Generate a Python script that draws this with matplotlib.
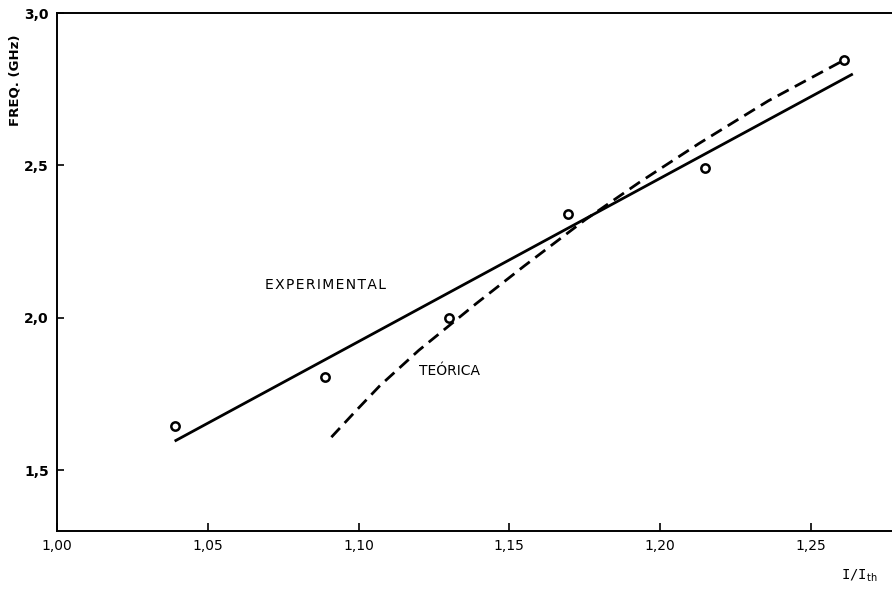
import matplotlib
matplotlib.use("Agg")
import matplotlib.pyplot as plt
from matplotlib.ticker import FuncFormatter

# measured points (I/Ith, GHz)
points_x = [1.039, 1.089, 1.130, 1.1695, 1.215, 1.261]
points_y = [1.645, 1.806, 2.000, 2.340, 2.490, 2.845]

# experimental fit (straight line, end points)
exp_x = [1.039, 1.264]
exp_y = [1.595, 2.800]

# theoretical curve
teo_x = [1.091, 1.099, 1.107, 1.120, 1.139, 1.155, 1.175, 1.193, 1.213, 1.236, 1.261]
teo_y = [1.608, 1.693, 1.776, 1.893, 2.046, 2.170, 2.320, 2.443, 2.572, 2.712, 2.845]

xticks = [1.00, 1.05, 1.10, 1.15, 1.20, 1.25]
yticks = [1.5, 2.0, 2.5, 3.0]

plt.rcParams['font.family'] = ['DejaVu Sans']

fig = plt.figure(figsize=(8.92, 5.92), dpi=100)
ax = fig.add_axes([0.064, 0.103, 0.936, 0.875])

ax.plot(exp_x, exp_y, color="black", linewidth=2.0, solid_capstyle="butt")
ax.plot(teo_x, teo_y, color="black", linewidth=2.0, dashes=(4.5, 2.5))
ax.plot(points_x, points_y, linestyle="none", marker="o", markersize=6,
        markerfacecolor="white", markeredgecolor="black", markeredgewidth=1.8)

ax.text(1.069, 2.085, "E X P E R I M E N T A L".replace(" ", "\u200a"), fontsize=10,
        va="bottom", ha="left")
ax.text(1.120, 1.826, "TEÓRICA", fontsize=10, va="center", ha="left")

ax.set_xlim(1.0, 1.277)
ax.set_ylim(1.3, 3.0)
ax.set_xticks(xticks)
ax.set_yticks(yticks)
ax.xaxis.set_major_formatter(FuncFormatter(lambda v, p: f"{v:.2f}".replace(".", ",")))
ax.yaxis.set_major_formatter(FuncFormatter(lambda v, p: f"{v:.1f}".replace(".", ",")))
ax.tick_params(axis="x", direction="in", length=6, width=1.2, pad=6, labelsize=10)
ax.tick_params(axis="y", direction="in", length=5, width=1.2, pad=6, labelsize=10)
for lab in ax.get_yticklabels():
    lab.set_fontweight("bold")

ax.spines["right"].set_visible(False)
for s in ("left", "bottom", "top"):
    ax.spines[s].set_linewidth(1.4)

fig.text(0.017, 0.865, "FREQ. (GHz)", rotation=90, fontsize=9.5, fontweight="bold",
         ha="center", va="center")
fig.text(0.963, 0.028, r"I/I$_{\rm th}$", fontsize=10, family="monospace",
         ha="center", va="center")

fig.savefig("out.png", dpi=100)
